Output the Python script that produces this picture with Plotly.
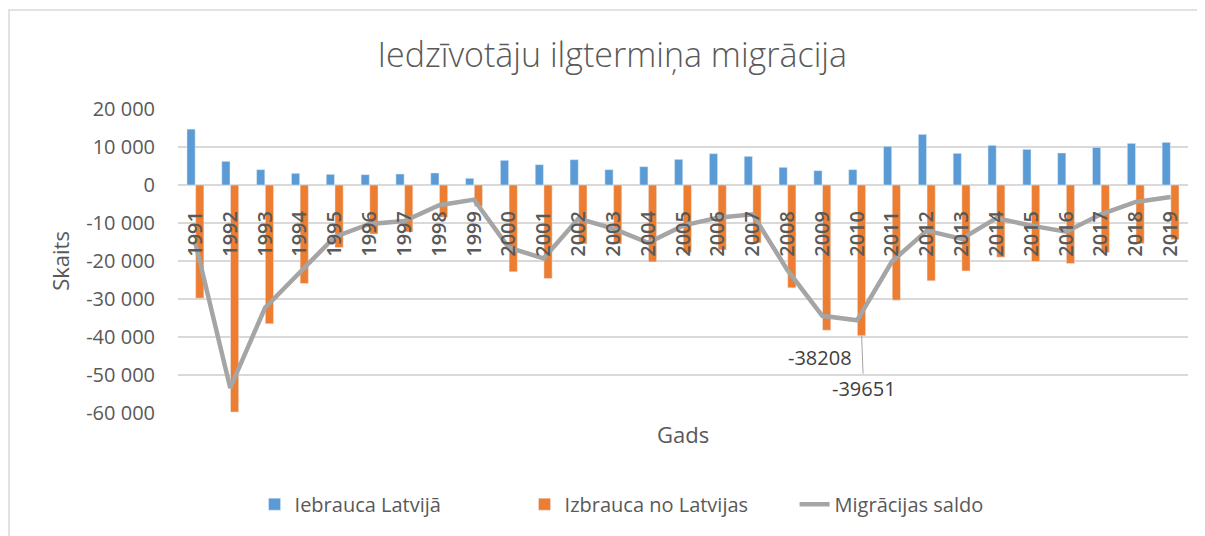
import plotly.graph_objects as go

# Iedzīvotāju ilgtermiņa migrācija, Latvija 1991-2019
gadi = [str(g) for g in range(1991, 2020)]

iebrauca = [14700, 6230, 4040, 3070, 2800, 2720, 2890, 3160, 1760, 6490,
            5350, 6660, 4040, 4820, 6750, 8240, 7540, 4650, 3780, 4040,
            10170, 13320, 8330, 10430, 9380, 8420, 9900, 10950, 11220]

izbrauca = [-29770, -59740, -36530, -25920, -16460, -12900, -12350, -8500, -5600, -22860,
            -24610, -15490, -15500, -20240, -17690, -17080, -15240, -27070, -38208, -39651,
            -30300, -25230, -22600, -19000, -20140, -20660, -17770, -15420, -14370]

saldo = [-15300, -53400, -32300, -22850, -13660, -10250, -9460, -5340, -3840, -16500,
         -19300, -8830, -11460, -15200, -10700, -8600, -7700, -22420, -34430, -35611,
         -20130, -12000, -14200, -8700, -10700, -12300, -7700, -4470, -3150]

y_ticks = [20000, 10000, 0, -10000, -20000, -30000, -40000, -50000, -60000]
y_ticktext = ["20 000", "10 000", "0", "-10 000", "-20 000", "-30 000", "-40 000", "-50 000", "-60 000"]

# years that get a data label on the emigration bar
label_years = ["2009", "2010"]

FONT = "Open Sans"
GREY_TXT = "#595959"
GRID = "#d9d9d9"

fig = go.Figure()
fig.add_trace(go.Bar(x=gadi, y=iebrauca, name="Iebrauca Latvijā", marker_color="#5b9bd5"))
fig.add_trace(go.Bar(x=gadi, y=izbrauca, name="Izbrauca no Latvijas", marker_color="#ed7d31"))
fig.add_trace(go.Scatter(x=gadi, y=saldo, name="Migrācijas saldo", mode="lines",
                         line=dict(color="#a5a5a5", width=4.5)))

# data labels for 2009 / 2010 (x given as category index)
for yr in label_years:
    i = gadi.index(yr)
    v = izbrauca[i]
    if yr == "2009":
        fig.add_annotation(x=i, y=v, text=str(v), showarrow=False, xshift=-2, yshift=-27,
                           font=dict(family=FONT, size=20, color="#404040"))
    else:
        fig.add_annotation(x=i, y=v, text=str(v), showarrow=True, arrowhead=0, arrowwidth=1,
                           arrowcolor="#a5a5a5", ax=2, ay=53, xshift=4.5, standoff=0,
                           font=dict(family=FONT, size=20, color="#404040"))

# axis titles
fig.add_annotation(text="Skaits", xref="paper", yref="paper", x=-0.117, y=0.5,
                   xanchor="center", yanchor="middle",
                   textangle=-90, showarrow=False, font=dict(family=FONT, size=22, color=GREY_TXT))
fig.add_annotation(text="Gads", xref="paper", yref="paper", x=0.5, y=-0.069,
                   xanchor="center", yanchor="middle",
                   showarrow=False, font=dict(family=FONT, size=22, color=GREY_TXT))

# chart border
fig.add_shape(type="rect", xref="paper", yref="paper", x0=-0.1673, x1=1.05, y0=-0.5, y1=1.3257,
              line=dict(color=GRID, width=1.5), layer="below")

fig.update_layout(
    width=1197, height=528,
    margin=dict(l=170, r=17, t=101, b=123),
    paper_bgcolor="white", plot_bgcolor="white",
    title=dict(text="Iedzīvotāju ilgtermiņa migrācija", x=0.43, xref="paper", xanchor="center",
               y=1 - 47 / 528, yanchor="middle",
               font=dict(family=FONT, size=34, color=GREY_TXT, weight=300)),
    barmode="group", bargap=0.5, bargroupgap=0.06,
    showlegend=True,
    legend=dict(orientation="h", x=0.0758, xanchor="left", y=-0.30, yanchor="middle",
                font=dict(family=FONT, size=20, color=GREY_TXT),
                entrywidth=225, entrywidthmode="pixels", traceorder="normal"),
    xaxis=dict(type="category", range=[-0.5, len(gadi) - 0.5], anchor="free", position=0.75,
               showline=False, showgrid=False,
               tickangle=-90, ticks="outside", ticklen=17, tickcolor="rgba(0,0,0,0)",
               tickfont=dict(family=FONT, size=20, color=GREY_TXT, weight=600), zeroline=False),
    yaxis=dict(range=[-60000, 20000], tickvals=y_ticks, ticktext=y_ticktext,
               showgrid=True, gridcolor=GRID, gridwidth=1.5, zeroline=True,
               zerolinecolor=GRID, zerolinewidth=1.5, showline=False,
               ticks="outside", ticklen=18, tickcolor="rgba(0,0,0,0)",
               tickfont=dict(family=FONT, size=20, color=GREY_TXT)),
)

fig.write_html("out.html")
